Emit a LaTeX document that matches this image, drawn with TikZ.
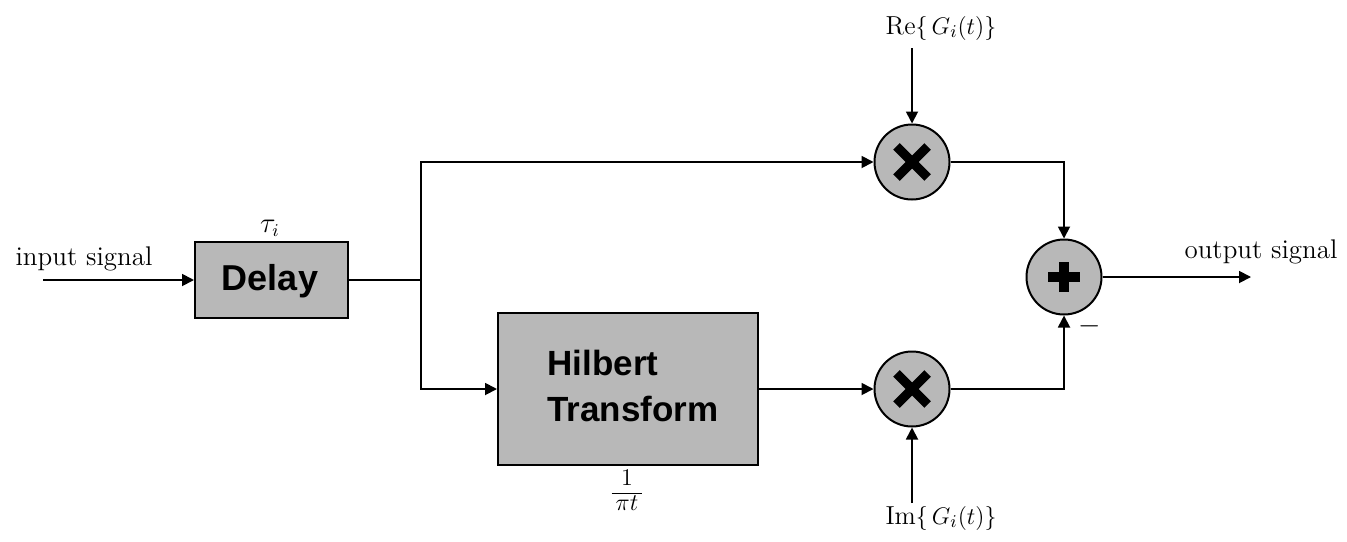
\documentclass[tikz,border=0pt]{standalone}
\usepackage{fontspec}
\newfontfamily\boxfont{Liberation Sans}
\usetikzlibrary{arrows.meta}
\begin{document}
\begin{tikzpicture}[x=0.5pt,y=-0.5pt,
  wire/.style={line width=0.9pt},
  sig/.style={wire,-{Triangle[length=6pt,width=6pt]}},
  block/.style={draw,line width=1pt,fill=black!28,inner sep=0pt},
  junct/.style={circle,draw,line width=1pt,fill=black!28,minimum size=37.5pt,inner sep=0pt},
  lbl/.style={font=\fontsize{13.5}{16}\selectfont,inner sep=1pt},
  boxtxt/.style={font=\boxfont\bfseries\fontsize{18}{24}\selectfont},
  mult/.style={junct,path picture={
      \draw[line width=4.6pt] ([shift={(-7.8pt,-7.8pt)}]path picture bounding box.center) -- ([shift={(7.8pt,7.8pt)}]path picture bounding box.center);
      \draw[line width=4.6pt] ([shift={(-7.8pt,7.8pt)}]path picture bounding box.center) -- ([shift={(7.8pt,-7.8pt)}]path picture bounding box.center);}},
  adder/.style={junct,path picture={
      \draw[line width=4.6pt] ([shift={(-8pt,0pt)}]path picture bounding box.center) -- ([shift={(8pt,0pt)}]path picture bounding box.center);
      \draw[line width=4.6pt] ([shift={(0pt,-7.5pt)}]path picture bounding box.center) -- ([shift={(0pt,7.5pt)}]path picture bounding box.center);}}
]
\useasboundingbox (0,0) rectangle (1347,541);

% blocks
\node[block,minimum width=76.5pt,minimum height=38pt] (delay) at (271.5,280) {};
\node[boxtxt] (delaytxt) at (270,281) {Delay};
\node[block,minimum width=130pt,minimum height=76pt] (hilb) at (628,389) {};
\node[boxtxt,align=left,font=\boxfont\bfseries\fontsize{17.5}{23}\selectfont] (hilbtxt) at (633,386) {Hilbert\\Transform};

% multipliers and adder
\node[mult] (m1) at (912,162) {};
\node[mult] (m2) at (912,389) {};
\node[adder] (sum) at (1064,277) {};

% labels
\node[lbl] (in) at (84,259) {input signal};
\node[lbl] (tau) at (270,228) {$\tau_i$};
\node[lbl,font=\fontsize{12.5}{15}\selectfont] (frac) at (627,493)
  {\renewcommand\arraystretch{0.8}$\begin{array}{@{\,}c@{\,}}1\\\hline\pi t\end{array}$};
\node[lbl,font=\fontsize{13}{16}\selectfont] (re) at (941,28) {$\mathrm{Re}\{\,G_i(t)\}$};
\node[lbl,font=\fontsize{13}{16}\selectfont] (im) at (941,518) {$\mathrm{Im}\{\,G_i(t)\}$};
\node[lbl] (out) at (1261,252) {output signal};
\node[lbl] (minus) at (1089.5,326) {$-$};

% connectors
\coordinate (instart) at (43,280);
\coordinate (split) at (421,280);
\coordinate (retop) at (912,48);
\coordinate (imbot) at (912,503);
\coordinate (outend) at (1251,277);
\draw[sig] (instart) -- (delay.west);
\draw[wire] (delay.east) -- (split);
\draw[sig] (split) |- (m1.west);
\draw[sig] (split) |- (hilb.west);
\draw[sig] (hilb.east) -- (m2.west);
\draw[sig] (retop) -- (m1.north);
\draw[sig] (imbot) -- (m2.south);
\draw[sig] (m1.east) -| (sum.north);
\draw[sig] (m2.east) -| (sum.south);
\draw[sig] (sum.east) -- (outend);
\end{tikzpicture}
\end{document}
